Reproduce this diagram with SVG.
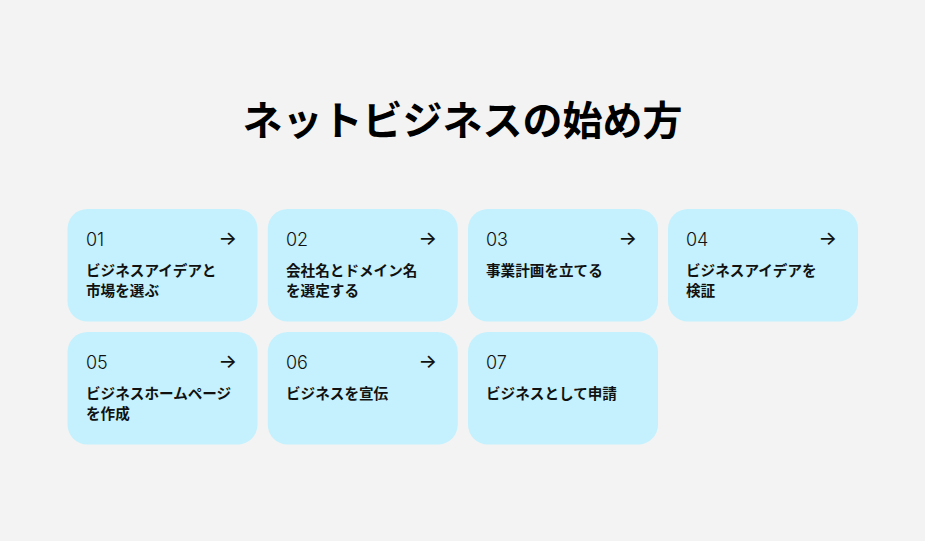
<svg xmlns="http://www.w3.org/2000/svg" width="925" height="541" viewBox="0 0 925 541">
<style>
.bg{fill:#f3f3f3}
.card{fill:#c4f1fd}
.title{font-family:"Noto Sans CJK JP","Noto Sans",sans-serif;font-weight:700;font-size:40px;fill:#000;text-anchor:middle}
.num{font-family:Inter,"Liberation Sans",sans-serif;font-weight:300;font-size:18px;fill:#111}
.arr{font-family:Inter,"DejaVu Sans",sans-serif;font-weight:500;font-size:19.5px;fill:#111;text-anchor:end}
.lbl{font-family:"Noto Sans CJK JP","Noto Sans",sans-serif;font-weight:700;font-size:14.6px;fill:#111}
</style>
<rect class="bg" x="0" y="0" width="925" height="541"/>
<text class="title" x="462.5" y="135">ネットビジネスの始め方</text>
<g id="node-01">
<rect class="card" x="67.5" y="209" width="190" height="112.5" rx="20"/>
<text class="num" x="86" y="246">01</text>
<text class="arr" x="237" y="245">→</text>
<text class="lbl" x="86" y="276">ビジネスアイデアと</text>
<text class="lbl" x="86" y="296">市場を選ぶ</text>
</g>
<g id="node-02">
<rect class="card" x="267.75" y="209" width="190" height="112.5" rx="20"/>
<text class="num" x="286" y="246">02</text>
<text class="arr" x="437" y="245">→</text>
<text class="lbl" x="286" y="276">会社名とドメイン名</text>
<text class="lbl" x="286" y="296">を選定する</text>
</g>
<g id="node-03">
<rect class="card" x="468" y="209" width="190" height="112.5" rx="20"/>
<text class="num" x="486" y="246">03</text>
<text class="arr" x="637" y="245">→</text>
<text class="lbl" x="486" y="276">事業計画を立てる</text>
</g>
<g id="node-04">
<rect class="card" x="668" y="209" width="190" height="112.5" rx="20"/>
<text class="num" x="686" y="246">04</text>
<text class="arr" x="837" y="245">→</text>
<text class="lbl" x="686" y="276">ビジネスアイデアを</text>
<text class="lbl" x="686" y="296">検証</text>
</g>
<g id="node-05">
<rect class="card" x="67.5" y="332" width="190" height="112.5" rx="20"/>
<text class="num" x="86" y="369">05</text>
<text class="arr" x="237" y="368">→</text>
<text class="lbl" x="86" y="399">ビジネスホームページ</text>
<text class="lbl" x="86" y="419">を作成</text>
</g>
<g id="node-06">
<rect class="card" x="267.75" y="332" width="190" height="112.5" rx="20"/>
<text class="num" x="286" y="369">06</text>
<text class="arr" x="437" y="368">→</text>
<text class="lbl" x="286" y="399">ビジネスを宣伝</text>
</g>
<g id="node-07">
<rect class="card" x="468" y="332" width="190" height="112.5" rx="20"/>
<text class="num" x="486" y="369">07</text>
<text class="lbl" x="486" y="399">ビジネスとして申請</text>
</g>
<g id="connectors"></g>
</svg>
